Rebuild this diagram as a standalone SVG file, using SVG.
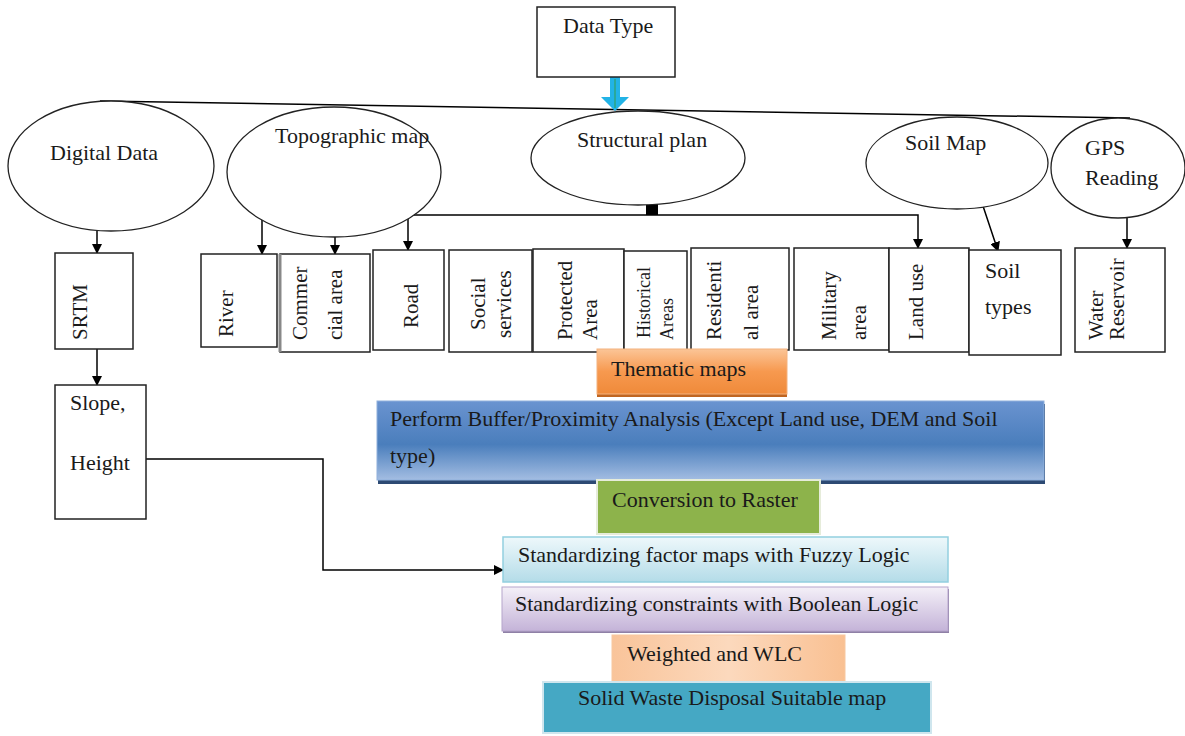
<svg xmlns="http://www.w3.org/2000/svg" width="1185" height="736" viewBox="0 0 1185 736">
<defs>
<style>
.t{font-family:"Liberation Serif","Times New Roman",serif;font-size:22px;fill:#1a1a1a}
.r{font-size:21px}
.ln{fill:none;stroke:#000;stroke-width:1.5}
.bx{fill:#fff;stroke:#222;stroke-width:1.5}
.el{fill:#fff;stroke:#222;stroke-width:1.3}
</style>
<marker id="ah" viewBox="0 0 10 10" refX="9" refY="5" markerWidth="10" markerHeight="10" markerUnits="userSpaceOnUse" orient="auto">
<path d="M0,0 L10,5 L0,10 z" fill="#000"/>
</marker>
<linearGradient id="gOr" x1="0" y1="0" x2="0" y2="1">
<stop offset="0" stop-color="#fbc597"/><stop offset="0.5" stop-color="#f7994f"/><stop offset="1" stop-color="#ef8a3a"/>
</linearGradient>
<linearGradient id="gBl" x1="0" y1="0" x2="0" y2="1">
<stop offset="0" stop-color="#6a93d0"/><stop offset="0.55" stop-color="#4a7ebc"/><stop offset="1" stop-color="#a3bde2"/>
</linearGradient>
<linearGradient id="gCy" x1="0" y1="0" x2="0" y2="1">
<stop offset="0" stop-color="#eef8fb"/><stop offset="1" stop-color="#b4dce8"/>
</linearGradient>
<linearGradient id="gPu" x1="0" y1="0" x2="0" y2="1">
<stop offset="0" stop-color="#f4f0f8"/><stop offset="1" stop-color="#c4b3d8"/>
</linearGradient>
<linearGradient id="gPe" x1="0" y1="0" x2="1" y2="0">
<stop offset="0" stop-color="#f9c49a"/><stop offset="0.5" stop-color="#fcd9bd"/><stop offset="1" stop-color="#f9c092"/>
</linearGradient>
</defs>

<g id="connectors">
<line class="ln" x1="100" y1="101" x2="1130" y2="118"/>
<line class="ln" x1="97" y1="231" x2="97" y2="253" marker-end="url(#ah)"/>
<line class="ln" x1="262" y1="192" x2="262" y2="254" marker-end="url(#ah)"/>
<line class="ln" x1="335" y1="237" x2="335" y2="254" marker-end="url(#ah)"/>
<path class="ln" d="M408,215 H918 V248" marker-end="url(#ah)"/>
<line class="ln" x1="408" y1="215" x2="408" y2="250" marker-end="url(#ah)"/>
<rect x="646" y="202" width="12" height="13" fill="#000"/>
<line class="ln" x1="983" y1="206" x2="998" y2="251" marker-end="url(#ah)"/>
<line class="ln" x1="1127" y1="218" x2="1127" y2="248" marker-end="url(#ah)"/>
<line class="ln" x1="97" y1="349" x2="97" y2="385" marker-end="url(#ah)"/>
<path class="ln" d="M146,459 H323 V570 H503" marker-end="url(#ah)"/>
<path d="M610,77 H620 V97 H629 L615,111 L601,97 H610 Z" fill="#22b3e6"/>
<line x1="615" y1="79" x2="615" y2="108" stroke="#2aa89a" stroke-width="2"/>
</g>

<g id="data-type">
<rect class="bx" x="537" y="7" width="138" height="70"/>
<text class="t" x="563" y="33">Data Type</text>
</g>

<g id="digital-data">
<ellipse class="el" cx="111" cy="166" rx="103" ry="65"/>
<text class="t" x="50" y="160">Digital Data</text>
</g>
<g id="topographic-map">
<ellipse class="el" cx="334" cy="172" rx="107" ry="65"/>
<text class="t" x="275" y="143">Topographic map</text>
</g>
<g id="structural-plan">
<ellipse class="el" cx="638" cy="158" rx="107" ry="47"/>
<text class="t" x="577" y="147">Structural plan</text>
</g>
<g id="soil-map">
<ellipse class="el" cx="957" cy="163" rx="91" ry="46"/>
<text class="t" x="905" y="150">Soil Map</text>
</g>
<g id="gps-reading">
<ellipse class="el" cx="1118" cy="168" rx="67" ry="50"/>
<text class="t" x="1085" y="155">GPS</text>
<text class="t" x="1085" y="185">Reading</text>
</g>

<g id="srtm">
<rect class="bx" x="55" y="253" width="78" height="96"/>
<text class="t r" transform="translate(87,340) rotate(-90)">SRTM</text>
</g>
<g id="slope-height">
<rect class="bx" x="55" y="385" width="91" height="134"/>
<text class="t" x="70" y="410">Slope,</text>
<text class="t" x="70" y="470">Height</text>
</g>
<g id="river">
<rect class="bx" x="201" y="254" width="76" height="93"/>
<text class="t r" transform="translate(233,337) rotate(-90)">River</text>
</g>
<g id="commercial-area">
<rect class="bx" x="280" y="254" width="90" height="98"/>
<line x1="280" y1="254" x2="280" y2="352" stroke="#888" stroke-width="3"/>
<text class="t r" transform="translate(307,340) rotate(-90)">Commer</text>
<text class="t r" transform="translate(342,340) rotate(-90)">cial area</text>
</g>
<g id="road">
<rect class="bx" x="373" y="250" width="71" height="100"/>
<text class="t r" transform="translate(418,328) rotate(-90)">Road</text>
</g>
<g id="social-services">
<rect class="bx" x="449" y="250" width="83" height="102"/>
<text class="t r" transform="translate(485,330) rotate(-90)">Social</text>
<text class="t r" transform="translate(511,338) rotate(-90)">services</text>
</g>
<g id="protected-area">
<rect class="bx" x="533" y="249" width="91" height="103"/>
<text class="t r" transform="translate(572,340) rotate(-90)">Protected</text>
<text class="t r" transform="translate(597,340) rotate(-90)">Area</text>
</g>
<g id="historical-areas">
<rect class="bx" x="624" y="251" width="63" height="101"/>
<text class="t" style="font-size:18px" transform="translate(650,338) rotate(-90)">Historical</text>
<text class="t" style="font-size:18px" transform="translate(673,340) rotate(-90)">Areas</text>
</g>
<g id="residential-area">
<rect class="bx" x="691" y="248" width="98" height="102"/>
<text class="t r" transform="translate(721,340) rotate(-90)">Residenti</text>
<text class="t r" transform="translate(758,340) rotate(-90)">al area</text>
</g>
<g id="military-area">
<rect class="bx" x="794" y="248" width="95" height="102"/>
<text class="t r" transform="translate(836,340) rotate(-90)">Military</text>
<text class="t r" transform="translate(866,340) rotate(-90)">area</text>
</g>
<g id="land-use">
<rect class="bx" x="889" y="248" width="80" height="104"/>
<text class="t r" transform="translate(923,340) rotate(-90)">Land use</text>
</g>
<g id="soil-types">
<rect class="bx" x="969" y="250" width="92" height="105"/>
<text class="t" x="985" y="278">Soil</text>
<text class="t" x="985" y="314">types</text>
</g>
<g id="water-reservoir">
<rect class="bx" x="1075" y="248" width="90" height="104"/>
<text class="t r" transform="translate(1103,340) rotate(-90)">Water</text>
<text class="t r" transform="translate(1124,340) rotate(-90)">Reservoir</text>
</g>

<g id="thematic-maps">
<rect x="597" y="351" width="190" height="46" fill="#c06520"/>
<rect x="597" y="349" width="190" height="45" fill="url(#gOr)" stroke="#f4b27e" stroke-width="1"/>
<text class="t" x="611" y="376">Thematic maps</text>
</g>
<g id="buffer-analysis">
<rect x="378" y="404" width="667" height="80" fill="#2d4a73"/>
<rect x="377" y="401" width="667" height="79" fill="url(#gBl)" stroke="#8fb0dc" stroke-width="1"/>
<text class="t" x="390" y="426">Perform Buffer/Proximity Analysis (Except Land use, DEM and Soil</text>
<text class="t" x="390" y="463">type)</text>
</g>
<g id="conversion-raster">
<rect x="597" y="480" width="223" height="54" fill="#8db34b" stroke="#e6ecda" stroke-width="2"/>
<text class="t" x="612" y="507">Conversion to Raster</text>
</g>
<g id="std-fuzzy">
<rect x="503" y="537" width="445" height="45" fill="url(#gCy)" stroke="#93cfdf" stroke-width="1.5"/>
<text class="t" x="518" y="562">Standardizing factor maps with Fuzzy Logic</text>
</g>
<g id="std-boolean">
<rect x="503" y="589" width="446" height="44" fill="#8f80a6"/>
<rect x="502" y="587" width="446" height="44" fill="url(#gPu)" stroke="#b6a5cc" stroke-width="1"/>
<text class="t" x="515" y="611">Standardizing constraints with Boolean Logic</text>
</g>
<g id="weighted-wlc">
<rect x="612" y="635" width="233" height="47" fill="url(#gPe)" stroke="#f7c8a0" stroke-width="1"/>
<text class="t" x="627" y="661">Weighted and WLC</text>
</g>
<g id="suitable-map">
<rect x="543" y="682" width="388" height="51" fill="#45a8c4" stroke="#cfe6ee" stroke-width="2"/>
<text class="t" x="578" y="705">Solid Waste Disposal Suitable map</text>
</g>
</svg>
